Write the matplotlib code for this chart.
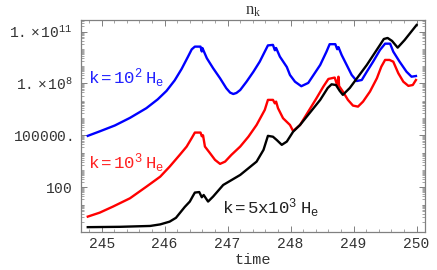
import numpy as np
import matplotlib
matplotlib.use("Agg")
import matplotlib.pyplot as plt
from matplotlib.ticker import FixedLocator, NullFormatter, MultipleLocator

plt.rcParams['mathtext.fontset'] = 'custom'
plt.rcParams['mathtext.rm'] = 'Liberation Mono'
plt.rcParams['mathtext.it'] = 'Liberation Mono'
plt.rcParams['font.family'] = ['Liberation Mono', 'DejaVu Sans']

# time values and log10(n_k)
t_blue = [244.78, 244.97, 245.21, 245.45, 245.71, 245.89, 246.03, 246.16, 246.27, 246.37,
          246.43, 246.48, 246.57, 246.59, 246.60, 246.67, 246.77, 246.88, 246.98, 247.04,
          247.09, 247.14, 247.20, 247.30, 247.41, 247.51, 247.59, 247.64, 247.72, 247.75,
          247.77, 247.83, 247.94, 247.99, 248.07, 248.17, 248.28, 248.47, 248.57, 248.62,
          248.71, 248.74, 248.76, 248.81, 248.89, 248.97, 249.05, 249.13, 249.21, 249.31,
          249.42, 249.50, 249.58, 249.63, 249.73, 249.84, 249.92, 249.99]
L_blue = [4.97, 5.23, 5.57, 6.01, 6.57, 7.08, 7.57, 8.18, 8.84, 9.54,
          9.97, 10.13, 10.13, 9.85, 10.05, 9.46, 8.88, 8.30, 7.72, 7.47,
          7.39, 7.45, 7.62, 8.10, 8.68, 9.26, 9.84, 10.20, 10.23, 9.92,
          10.05, 9.55, 8.95, 8.49, 8.10, 7.84, 8.03, 9.07, 9.84, 10.27,
          10.27, 9.98, 10.10, 9.65, 9.07, 8.49, 8.14, 8.20, 8.68, 9.26,
          9.94, 10.30, 10.30, 9.84, 9.26, 8.68, 8.39, 8.43]

t_red = [244.78, 244.97, 245.18, 245.45, 245.71, 245.93, 246.08, 246.24, 246.35, 246.43,
         246.48, 246.57, 246.59, 246.61, 246.64, 246.72, 246.80, 246.88, 246.96, 247.06,
         247.20, 247.33, 247.46, 247.59, 247.64, 247.72, 247.75, 247.77, 247.80, 247.88,
         247.99, 248.04, 248.15, 248.28, 248.41, 248.52, 248.60, 248.70, 248.74, 248.76,
         248.77, 248.83, 248.91, 248.99, 249.07, 249.15, 249.26, 249.37, 249.44, 249.50,
         249.57, 249.63, 249.71, 249.79, 249.87, 249.94, 249.99]
L_red = [0.30, 0.53, 0.88, 1.36, 2.03, 2.61, 3.19, 3.87, 4.35, 4.84,
         5.16, 5.16, 4.95, 5.00, 4.35, 3.97, 3.58, 3.35, 3.48, 3.87,
         4.35, 4.92, 5.60, 6.47, 7.05, 7.05, 6.85, 6.95, 6.57, 5.99,
         5.60, 5.25, 5.60, 6.37, 7.14, 7.82, 8.26, 8.34, 7.90, 8.39,
         7.85, 7.53, 7.05, 6.72, 6.66, 6.95, 7.53, 8.30, 8.97, 9.36,
         9.36, 9.26, 8.59, 8.10, 7.86, 7.91, 8.20]

t_black = [244.78, 245.29, 245.77, 245.93, 246.08, 246.18, 246.24, 246.32, 246.40, 246.45,
           246.48, 246.55, 246.59, 246.62, 246.69, 246.77, 246.93, 247.20, 247.46, 247.57,
           247.64, 247.72, 247.78, 247.86, 247.94, 248.04, 248.15, 248.47, 248.59, 248.65,
           248.72, 248.78, 248.83, 248.94, 249.21, 249.42, 249.48, 249.54, 249.61, 249.70,
           249.81, 250.00]
L_black = [-0.31, -0.29, -0.24, -0.15, 0.01, 0.23, 0.50, 0.86, 1.17, 1.50,
           1.69, 1.72, 1.42, 1.55, 1.17, 1.46, 2.13, 2.71, 3.48, 4.16,
           4.97, 4.92, 4.73, 4.45, 4.64, 5.21, 5.60, 7.05, 7.74, 7.95,
           7.91, 7.57, 7.34, 7.74, 9.07, 10.23, 10.57, 10.63, 10.46, 10.07,
           10.51, 11.38]

ytick_vals = [1e2, 1e5, 1e8, 1e11]
ytick_labels = [r'$\mathregular{100}$', r'$\mathregular{100000.}$',
                r'$\mathregular{1.\times10^{8}}$', r'$\mathregular{1.\times10^{11}}$']
xtick_vals = [245, 246, 247, 248, 249, 250]

fig = plt.figure(figsize=(4.37, 2.70), dpi=100)
ax = fig.add_axes([0.185, 0.142, 0.787, 0.784])

ax.plot(t_blue, 10 ** np.array(L_blue), color='#0000ff', lw=1.7, solid_joinstyle='round')
ax.plot(t_red, 10 ** np.array(L_red), color='#ff0000', lw=1.7, solid_joinstyle='round')
ax.plot(t_black, 10 ** np.array(L_black), color='#000000', lw=1.7, solid_joinstyle='round')

ax.set_yscale('log')
ax.set_xlim(244.67, 250.13)
ax.set_ylim(10 ** -0.57, 10 ** 11.67)

ax.yaxis.set_major_locator(FixedLocator(ytick_vals))
ax.set_yticklabels(ytick_labels)
minor = []
for e in range(0, 12):
    for s in range(1, 10):
        v = s * 10.0 ** e
        if v not in ytick_vals:
            minor.append(v)
ax.yaxis.set_minor_locator(FixedLocator(minor))
ax.yaxis.set_minor_formatter(NullFormatter())

ax.set_xticks(xtick_vals)
ax.set_xticklabels([str(v) for v in xtick_vals])
ax.xaxis.set_minor_locator(MultipleLocator(0.2))

frame_col = '#808080'
for sp in ax.spines.values():
    sp.set_color(frame_col)
    sp.set_linewidth(0.9)
ax.tick_params(which='both', direction='in', top=True, right=True, color=frame_col,
               labelsize=10.5, labelcolor='#333333')
ax.tick_params(axis='y', which='major', pad=6)
ax.tick_params(which='major', length=4, width=0.7)
ax.tick_params(which='minor', length=2, width=0.5)

ax.set_xlabel('time', fontsize=11, color='#333333', labelpad=2)
ax.set_title(r'$\mathregular{n_k}$', fontsize=12, family=['Liberation Serif'], pad=4, color='#333333')

ax.text(0.02, 0.726, r'$\mathregular{k=10^2\ H_e}$', transform=ax.transAxes,
        color='#2222ff', fontsize=12.5, va='center', ha='left')
ax.text(0.02, 0.325, r'$\mathregular{k=10^3\ H_e}$', transform=ax.transAxes,
        color='#ff2222', fontsize=12.5, va='center', ha='left')
ax.text(0.409, 0.112, r'$\mathregular{k=5x10^3\ H_e}$', transform=ax.transAxes,
        color='#222222', fontsize=12.5, va='center', ha='left')

fig.savefig('out.png', dpi=100)
